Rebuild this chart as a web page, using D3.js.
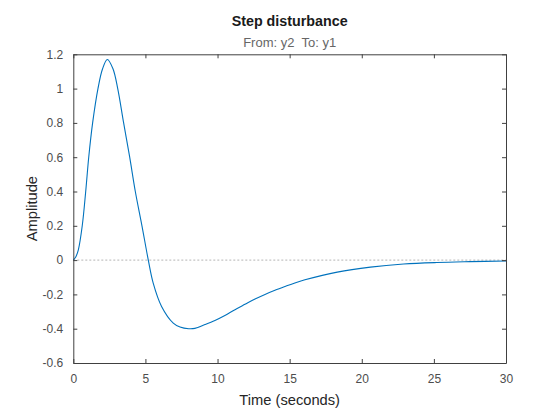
<!DOCTYPE html>
<html>
<head>
<meta charset="utf-8">
<script src="https://cdn.jsdelivr.net/npm/d3@7"></script>
<style>
  body { margin: 0; background: #fff; }
  svg { font-family: "Liberation Sans", Arial, sans-serif; }
</style>
</head>
<body>
<svg id="chart" width="560" height="420"></svg>
<script>
// values
var timeSec = [0, 0.18, 0.35, 0.62, 0.86, 1.07, 1.34, 1.71, 2.03, 2.36, 2.75, 3.08, 3.49, 3.91, 4.3, 4.76, 5.2,
               5.54, 6.12, 6.93, 7.4, 8.0, 8.43, 9.13, 9.82, 10.51, 11.21, 11.9, 12.6, 13.29, 13.98, 14.67, 15.36, 16.06,
               18.3, 20.6, 22.9, 25.2, 27.5, 30];
var amplitude = [0, 0.02, 0.06, 0.2, 0.4, 0.6, 0.8, 1.0, 1.116, 1.17, 1.116, 1.0, 0.8, 0.6, 0.4, 0.2, 0,
                 -0.134, -0.27, -0.367, -0.39, -0.40, -0.398, -0.376, -0.352, -0.323, -0.289, -0.258, -0.227, -0.200, -0.176, -0.154, -0.133, -0.115,
                 -0.070, -0.041, -0.023, -0.014, -0.009, -0.005];
var xTicks = [0, 5, 10, 15, 20, 25, 30];
var yTicks = [-0.6, -0.4, -0.2, 0, 0.2, 0.4, 0.6, 0.8, 1, 1.2];

var titleText = "Step disturbance";
var subTitle = "From: y2  To: y1";
var xLabel = "Time (seconds)";
var yLabel = "Amplitude";

var svg = d3.select("#chart");
var plotL = 73.3, plotR = 506, plotT = 54.3, plotB = 363;
var axisCol = "#404040";

var x = d3.scaleLinear().domain([0, 30]).range([plotL, plotR]);
var y = d3.scaleLinear().domain([-0.6, 1.2]).range([plotB, plotT]);

// zero reference line
svg.append("line")
  .attr("x1", plotL).attr("x2", plotR)
  .attr("y1", y(0)).attr("y2", y(0))
  .attr("stroke", "#b4b4b4").attr("stroke-width", 1)
  .attr("stroke-dasharray", "2,2");

// the response
var line = d3.line()
  .x(function(d, i) { return x(timeSec[i]); })
  .y(function(d) { return y(d); })
  .curve(d3.curveCatmullRom.alpha(0.5));

svg.append("path")
  .datum(amplitude)
  .attr("d", line)
  .attr("fill", "none")
  .attr("stroke", "#0072BD")
  .attr("stroke-width", 1.1);

// axes on all four sides, ticks pointing in
function styleAxis(g) {
  g.select(".domain").attr("stroke", axisCol);
  g.selectAll(".tick line").attr("stroke", axisCol);
  g.selectAll("text").attr("fill", "#4d4d4d").attr("font-size", "12px")
    .attr("font-family", "Liberation Sans, Arial, sans-serif");
}

svg.append("g").attr("transform", "translate(0," + plotB + ")")
  .call(d3.axisBottom(x).tickValues(xTicks).tickSize(-4).tickSizeOuter(0).tickPadding(11).tickFormat(d3.format("d")))
  .call(styleAxis);

svg.append("g").attr("transform", "translate(0," + plotT + ")")
  .call(d3.axisTop(x).tickValues(xTicks).tickSize(-4).tickSizeOuter(0).tickFormat(""))
  .call(styleAxis);

svg.append("g").attr("transform", "translate(" + plotL + ",0)")
  .call(d3.axisLeft(y).tickValues(yTicks).tickSize(-4).tickSizeOuter(0).tickPadding(10).tickFormat(function(d) { return String(+d.toFixed(1)); }))
  .call(styleAxis);

svg.append("g").attr("transform", "translate(" + plotR + ",0)")
  .call(d3.axisRight(y).tickValues(yTicks).tickSize(-4).tickSizeOuter(0).tickFormat(""))
  .call(styleAxis);

// titles
svg.append("text")
  .attr("x", (plotL + plotR) / 2).attr("y", 26)
  .attr("text-anchor", "middle")
  .attr("font-size", "14.3px").attr("font-weight", "bold")
  .attr("fill", "#1a1a1a")
  .text(titleText);

svg.append("text")
  .attr("x", (plotL + plotR) / 2).attr("y", 47.3)
  .attr("text-anchor", "middle")
  .attr("font-size", "13px")
  .attr("fill", "#666")
  .style("white-space", "pre")
  .text(subTitle);

svg.append("text")
  .attr("x", (plotL + plotR) / 2).attr("y", 405)
  .attr("text-anchor", "middle")
  .attr("font-size", "14.7px")
  .attr("fill", "#262626")
  .text(xLabel);

svg.append("text")
  .attr("transform", "translate(37," + (plotT + plotB) / 2 + ") rotate(-90)")
  .attr("text-anchor", "middle")
  .attr("font-size", "14.7px")
  .attr("fill", "#262626")
  .text(yLabel);
</script>
</body>
</html>
